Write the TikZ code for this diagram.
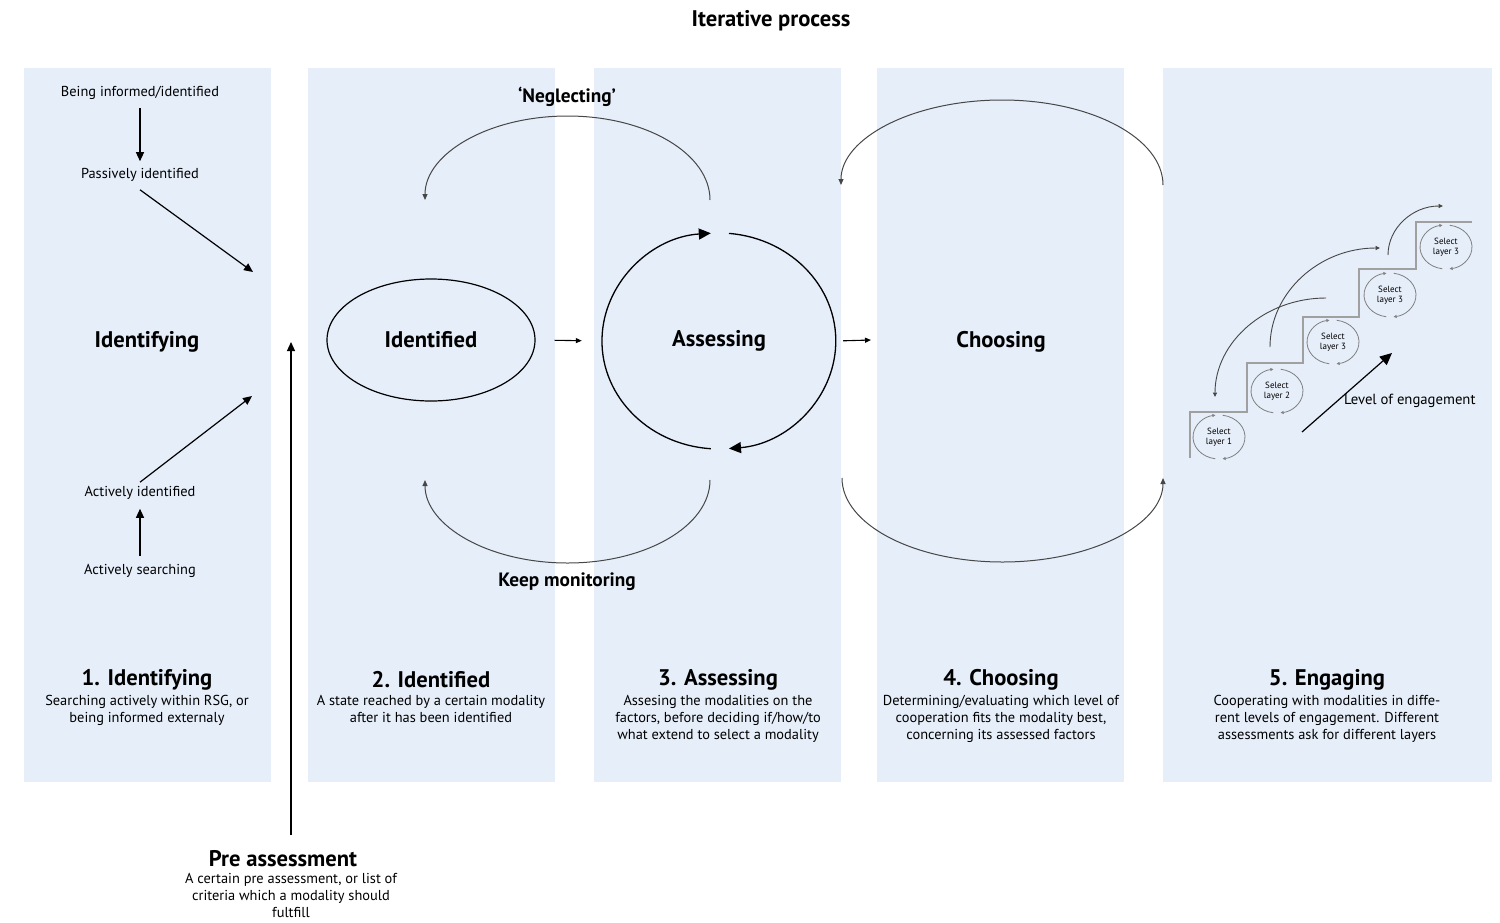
\documentclass[tikz,border=0pt]{standalone}
\usepackage{fontspec}
\setmainfont{PT Sans}
\usetikzlibrary{arrows.meta,shapes.geometric}

\definecolor{panelblue}{RGB}{230,238,249}
\definecolor{stairgray}{RGB}{160,160,160}
\definecolor{loopgray}{RGB}{70,70,70}

\begin{document}
\begin{tikzpicture}[x=1pt,y=-1pt,
  panel/.style={fill=panelblue,draw=none},
  smalltxt/.style={font=\fontsize{14.4}{17}\selectfont,align=center,inner sep=0pt},
  headtxt/.style={font=\fontsize{22.6}{26}\selectfont\bfseries,inner sep=0pt},
  midtxt/.style={font=\fontsize{19.3}{23}\selectfont\bfseries,inner sep=0pt},
  tinytxt/.style={font=\fontsize{9}{10}\selectfont,align=center,inner sep=0pt},
  arr/.style={line width=1.2pt,-{Triangle[length=9pt,width=8pt]}},
  arrs/.style={line width=1.1pt,-{Triangle[length=6pt,width=5pt]}},
  arrb/.style={line width=1.3pt,-{Triangle[length=12pt,width=11pt]}},
  looparrow/.style={line width=1pt,draw=loopgray,-{Triangle[length=6pt,width=5pt]}},
  stairline/.style={line width=1.2pt,draw=stairgray},
  ringarrow/.style={line width=0.8pt,draw=gray,-{Triangle[length=3pt,width=3pt]}},
  curvearrow/.style={line width=0.9pt,draw=loopgray,-{Triangle[length=4.5pt,width=4pt]}}
]
\useasboundingbox (0,0) rectangle (1500,922);

% column backgrounds
\fill[panel] (24,68) rectangle (271,782);
\fill[panel] (308,68) rectangle (555,782);
\fill[panel] (594,68) rectangle (841,782);
\fill[panel] (877,68) rectangle (1124,782);
\fill[panel] (1163,68) rectangle (1492,782);

\node[headtxt] (title) at (771,21) {Iterative process};

% --- column 1: identifying
\node[smalltxt] (bi) at (140,93) {Being informed/identified};
\node[smalltxt] (pi) at (140,175) {Passively identified};
\node[smalltxt] (ai) at (140,493) {Actively identified};
\node[smalltxt] (as) at (140,571) {Actively searching};
\node[headtxt] (idf) at (147,342) {Identifying};
\coordinate (pi-end) at (253,272);
\coordinate (ai-end) at (252,396);
\draw[arr,shorten <=8pt,shorten >=7pt] (bi) -- (pi);
\draw[arr] (pi.south) ++(0,8) -- (pi-end);
\draw[arr,shorten <=8pt,shorten >=9pt] (as) -- (ai);
\draw[arr] (ai.north) ++(0,-4) -- (ai-end);

% --- pre assessment
\coordinate (pa-bot) at (291,835);
\coordinate (pa-top) at (291,342);
\draw[arr] (pa-bot) -- (pa-top);
\node[headtxt] (pre) at (283,859) {Pre assessment};
\node[smalltxt,anchor=north] (pre-d) at (291,873) {A certain pre assessment, or list of\\criteria which a modality should\\fultfill};

% --- column 2 and 3: identified, assessing
\node[draw,ellipse,line width=1.2pt,minimum width=208pt,minimum height=122pt,headtxt] (idd) at (431,340) {Identified};
\node[ellipse,minimum width=234pt,minimum height=216pt,headtxt] (ass) at (719,341) {Assessing};
\draw[arrb] (729,233.4) arc[start angle=85,end angle=-85,x radius=117pt,y radius=108pt];
\draw[arrb] (710.8,448.7) arc[start angle=-94,end angle=-266,x radius=117pt,y radius=108pt];
\draw[arrs,shorten <=19pt,shorten >=20pt] (idd.east) -- (ass.west);

% loops back to the identified state
\coordinate (ng-s) at (710,200);
\coordinate (km-s) at (710,480);
\draw[looparrow] (ng-s) arc[start angle=0,end angle=180,x radius=142.5pt,y radius=84pt];
\draw[looparrow] (km-s) arc[start angle=0,end angle=-180,x radius=142.5pt,y radius=83pt];
\node[midtxt] (ngl) at (567,97) {‘Neglecting’};
\node[midtxt] (kpm) at (567,582) {Keep monitoring};

% --- column 4: choosing
\node[headtxt] (cho) at (1001,342) {Choosing};
\coordinate (cho-in) at (871,340);
\draw[arrs,shorten <=7pt] (ass.east) -- (cho-in);
\coordinate (big-top) at (1163,185);
\coordinate (big-bot) at (842,478);
\draw[looparrow] (big-top) arc[start angle=0,end angle=180,x radius=161pt,y radius=85pt];
\draw[looparrow] (big-bot) arc[start angle=180,end angle=360,x radius=160.5pt,y radius=84pt];

% --- column 5: engaging staircase
\draw[stairline] (1190,458) -- (1190,412) -- (1247,412) -- (1247,363) -- (1303,363)
  -- (1303,317) -- (1359,317) -- (1359,269) -- (1416,269) -- (1416,222) -- (1472,222);
\foreach \i/\cx/\cy/\l in {1/1219/437/1,2/1277/391/2,3/1333/342/3,4/1390/295/3,5/1446/247/3}{
  \node[ellipse,minimum width=52pt,minimum height=44pt,tinytxt] (s\i) at (\cx,\cy) {Select\\layer \l};
  \draw[ringarrow] ({\cx+26*cos(82)},{\cy-22*sin(82)}) arc[start angle=82,end angle=-82,x radius=26pt,y radius=22pt];
  \draw[ringarrow] ({\cx+26*cos(-98)},{\cy-22*sin(-98)}) arc[start angle=-98,end angle=-262,x radius=26pt,y radius=22pt];
}
\coordinate (b1) at (1326,298);
\coordinate (b2) at (1270,347);
\coordinate (b3) at (1388,255);
\draw[curvearrow] (b1) arc[start angle=90,end angle=180,x radius=111pt,y radius=99pt];
\draw[curvearrow] (b2) arc[start angle=180,end angle=90,x radius=110pt,y radius=99pt];
\draw[curvearrow] (b3) arc[start angle=180,end angle=90,x radius=55pt,y radius=49pt];
\coordinate (lv-s) at (1302,432);
\coordinate (lv-e) at (1392,353);
\draw[arrb,line width=1.2pt] (lv-s) -- (lv-e);
\node[smalltxt,anchor=west,font=\fontsize{14.7}{17}\selectfont] (lvl) at (1344,401) {Level of engagement};

% --- column captions
\node[headtxt] (h1) at (147,680) {1. Identifying};
\node[headtxt] (h2) at (431,680) {2. Identified};
\node[headtxt] (h3) at (718,680) {3. Assessing};
\node[headtxt] (h4) at (1001,680) {4. Choosing};
\node[headtxt] (h5) at (1327,680) {5. Engaging};
\node[smalltxt,anchor=north] (d1) at (147,695) {Searching actively within RSG, or\\being informed externaly};
\node[smalltxt,anchor=north] (d2) at (431,695) {A state reached by a certain modality\\after it has been identified};
\node[smalltxt,anchor=north] (d3) at (718,695) {Assesing the modalities on the\\factors, before deciding if/how/to\\what extend to select a modality};
\node[smalltxt,anchor=north] (d4) at (1001,695) {Determining/evaluating which level of\\cooperation fits the modality best,\\concerning its assessed factors};
\node[smalltxt,anchor=north] (d5) at (1327,695) {Cooperating with modalities in diffe-\\rent levels of engagement. Different\\assessments ask for different layers};
\end{tikzpicture}
\end{document}
